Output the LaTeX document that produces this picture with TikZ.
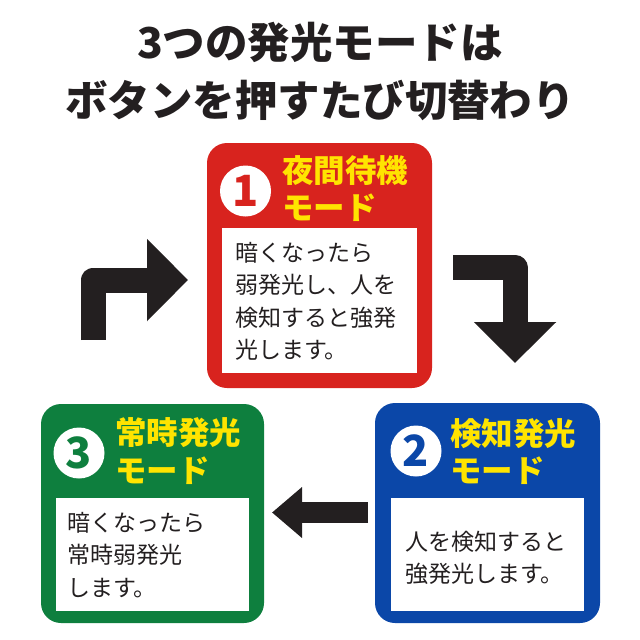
\documentclass[tikz,border=0pt]{standalone}
\usepackage{fontspec}
\setmainfont{Noto Sans CJK JP}
\usetikzlibrary{arrows.meta,positioning,calc}
\definecolor{NightRed}{HTML}{D8231E}
\definecolor{SenseBlue}{HTML}{0B47A8}
\definecolor{AlwaysGreen}{HTML}{0E7F3E}
\definecolor{TitleYellow}{HTML}{FFE400}
\definecolor{InkBlack}{HTML}{231F20}

\begin{document}
\begin{tikzpicture}[x=1pt,y=-1pt,
  panel/.style={rounded corners=20pt,inner sep=0pt},
  bodybox/.style={fill=white,inner sep=0pt},
  badge/.style={circle,fill=white,minimum size=51pt,inner sep=0pt,font=\bfseries\fontsize{43}{43}\selectfont},
  modename/.style={anchor=west,align=left,inner sep=0pt,text=TitleYellow,font=\bfseries\fontsize{31.5}{37.5}\selectfont},
  modetext/.style={anchor=west,align=left,inner sep=0pt,text=InkBlack,font=\fontsize{23}{32.5}\selectfont},
  turn/.style={InkBlack,line width=25pt,line join=round,-{Triangle[length=41pt,width=80pt]}}]
\useasboundingbox (0,0) rectangle (640,640);
% judul
\node[align=center,text=InkBlack,font=\bfseries\fontsize{42.5}{58}\selectfont] (title) at (320,71) {3つの発光モードは\\ボタンを押すたび切替わり};
% mode 1
\node[panel,fill=NightRed,minimum width=225pt,minimum height=245pt] (night) at (319.5,265.5) {};
\node[bodybox,minimum width=195pt,minimum height=145pt] (nightbody) at (319.5,300.5) {};
\node[badge,text=NightRed] (nightno) at (245.5,191) {1};
\node[modename] (nightname) at (282,188.5) {夜間待機\\モード};
\node[modetext] (nighttext) at (235,301.5) {暗くなったら\\弱発光し、人を\\検知すると強発\\光します。};
% mode 2
\node[panel,fill=SenseBlue,minimum width=225pt,minimum height=220pt] (sense) at (487.5,513) {};
\node[bodybox,minimum width=193pt,minimum height=113pt] (sensebody) at (487.5,554.5) {};
\node[badge,text=SenseBlue] (senseno) at (416,451) {2};
\node[modename] (sensename) at (450,451.5) {検知発光\\モード};
\node[modetext] (sensetext) at (405,558) {人を検知すると\\強発光します。};
% mode 3
\node[panel,fill=AlwaysGreen,minimum width=223pt,minimum height=219pt] (always) at (152.5,513.5) {};
\node[bodybox,minimum width=193pt,minimum height=113pt] (alwaysbody) at (152.5,554.5) {};
\node[badge,text=AlwaysGreen] (alwaysno) at (79,453) {3};
\node[modename] (alwaysname) at (115,451) {常時発光\\モード};
\node[modetext] (alwaystext) at (67,555) {暗くなったら\\常時弱発光\\します。};
% panah
\coordinate (upfrom) at (93,340);
\coordinate (upto) at (188,280);
\coordinate (downfrom) at (453,267.5);
\coordinate (downto) at (515,363);
\coordinate (backfrom) at (368,512.5);
\coordinate (backto) at (272,512.5);
\draw[turn] (upfrom) |- (upto);
\draw[turn] (downfrom) -| (downto);
\draw[turn,line width=21pt,-{Triangle[length=30pt,width=49pt]}] (backfrom) -- (backto);
\end{tikzpicture}
\end{document}
